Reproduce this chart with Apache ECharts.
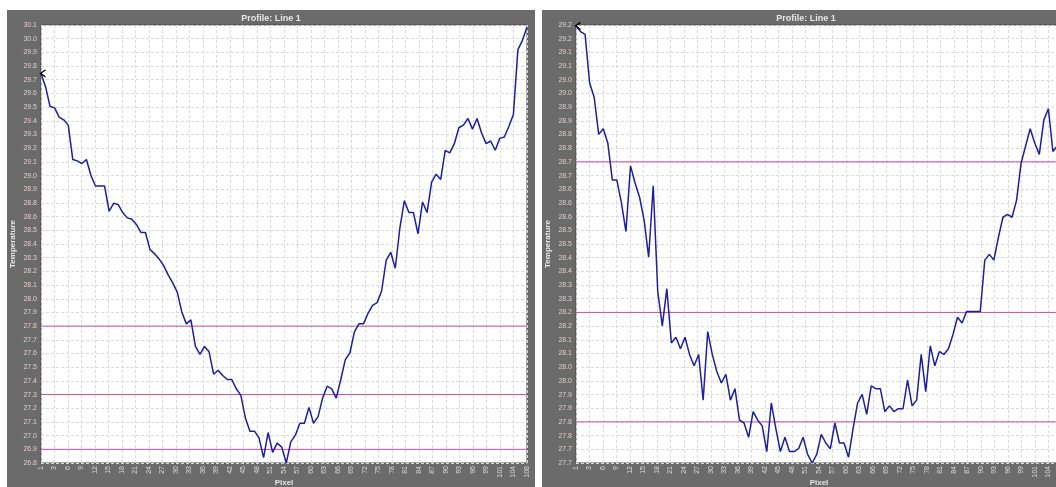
<!DOCTYPE html>
<html><head><meta charset="utf-8">
<script src="https://cdn.jsdelivr.net/npm/echarts@6/dist/echarts.min.js"></script>
<style>
html,body{margin:0;padding:0;background:#fff;width:1056px;height:487px;overflow:hidden;position:relative}
#c1{position:absolute;left:7px;top:10px;width:528px;height:477px}
#c2{position:absolute;left:542px;top:10px;width:528px;height:477px}
</style></head><body>
<div id="c1"></div><div id="c2"></div>
<script>
const pixels = [1,2,3,4,5,6,7,8,9,10,11,12,13,14,15,16,17,18,19,20,21,22,23,24,25,26,27,28,29,30,31,32,33,34,35,36,37,38,39,40,41,42,43,44,45,46,47,48,49,50,51,52,53,54,55,56,57,58,59,60,61,62,63,64,65,66,67,68,69,70,71,72,73,74,75,76,77,78,79,80,81,82,83,84,85,86,87,88,89,90,91,92,93,94,95,96,97,98,99,100,101,102,103,104,105,106,107,108];

const leftTemps = [29.73,29.63,29.48,29.47,29.40,29.38,29.34,29.08,29.07,29.05,29.08,28.96,28.88,28.88,28.88,28.69,28.75,28.74,28.68,28.64,28.63,28.59,28.53,28.53,28.40,28.37,28.33,28.28,28.21,28.15,28.08,27.93,27.84,27.87,27.67,27.61,27.67,27.63,27.46,27.49,27.45,27.42,27.42,27.35,27.30,27.13,27.03,27.03,26.98,26.83,27.02,26.87,26.94,26.91,26.79,26.95,27.00,27.09,27.09,27.21,27.09,27.14,27.28,27.37,27.35,27.28,27.42,27.57,27.62,27.78,27.84,27.84,27.92,27.98,28.00,28.09,28.32,28.38,28.26,28.56,28.77,28.68,28.68,28.52,28.76,28.68,28.91,28.97,28.93,29.15,29.13,29.20,29.32,29.34,29.39,29.31,29.39,29.28,29.20,29.22,29.15,29.24,29.25,29.33,29.42,29.91,29.98,30.08];

const rightTemps = [29.22,29.20,29.19,29.02,28.97,28.84,28.86,28.81,28.68,28.68,28.60,28.50,28.73,28.67,28.62,28.54,28.41,28.66,28.29,28.17,28.30,28.11,28.13,28.09,28.13,28.07,28.03,28.07,27.91,28.15,28.07,28.01,27.97,28.00,27.91,27.95,27.84,27.83,27.78,27.87,27.84,27.82,27.73,27.90,27.81,27.73,27.78,27.73,27.73,27.74,27.78,27.72,27.69,27.72,27.79,27.76,27.74,27.83,27.76,27.76,27.71,27.81,27.90,27.93,27.86,27.96,27.95,27.95,27.87,27.89,27.87,27.88,27.88,27.98,27.89,27.91,28.07,27.94,28.10,28.03,28.08,28.07,28.09,28.14,28.20,28.18,28.22,28.22,28.22,28.22,28.40,28.42,28.40,28.48,28.55,28.56,28.55,28.61,28.74,28.80,28.86,28.81,28.77,28.89,28.93,28.78,28.80,28.82];

const xTickLabels = ['1','3','6','9','12','15','18','21','24','27','30','33','36','39','42','45','48','51','54','57','60','63','66','69','72','75','78','81','84','87','90','93','96','99','101','104','108'];

const leftYLabels = ['26.8','26.9','27.0','27.1','27.2','27.3','27.4','27.5','27.6','27.7','27.8','27.9','28.0','28.1','28.2','28.3','28.4','28.5','28.6','28.8','28.9','29.0','29.1','29.2','29.3','29.4','29.5','29.6','29.7','29.8','29.9','30.0','30.1'];
const rightYLabels = ['27.7','27.7','27.8','27.8','27.9','27.9','28.0','28.0','28.1','28.1','28.2','28.2','28.3','28.3','28.4','28.4','28.5','28.5','28.6','28.6','28.6','28.7','28.7','28.8','28.8','28.9','28.9','29.0','29.0','29.1','29.1','29.2','29.2'];

const leftLimits = [27.823, 27.307, 26.893];
const rightLimits = [28.744, 28.217, 27.834];

const leftAxisMin = 26.79, leftAxisStep = 0.1033;
const rightAxisMin = 27.69, rightAxisStep = 0.0479;

const FONT = 'Liberation Sans';
const LIMIT_COLOR = '#c8509e';

function build(el, temps, yLabels, yMin, yStep, limits) {
  const chart = echarts.init(el, null, {renderer: 'canvas'});
  const nY = yLabels.length - 1;
  const xMin = pixels[0], xMax = pixels[pixels.length - 1];
  const xStep = (xMax - xMin) / (xTickLabels.length - 1);
  const limitSeries = limits.map(v => ({
    type: 'line', data: [[xMin, v], [xMax, v]], showSymbol: false, symbol: 'none', silent: true,
    emphasis: {disabled: true}, z: 1,
    lineStyle: {color: LIMIT_COLOR, width: 1, type: 'solid'}
  }));
  chart.setOption({
    animation: false,
    backgroundColor: '#6b6b6b',
    title: {
      text: 'Profile: Line 1', left: 'center', top: 4, padding: 0,
      textStyle: {color: '#e6e6e6', fontSize: 9, fontWeight: 'bold', fontFamily: FONT}
    },
    grid: {left: 34, top: 15, width: 486, height: 438, show: true, outerBoundsMode: 'none', containLabel: false,
      backgroundColor: '#ffffff', borderColor: '#4a4a4a', borderWidth: 1},
    xAxis: {
      type: 'value', min: xMin, max: xMax, interval: xStep,
      name: 'Pixel', nameLocation: 'middle', nameGap: 16, nameMoveOverlap: false,
      nameTextStyle: {color: '#e6e6e6', fontSize: 8, fontWeight: 'bold', fontFamily: FONT},
      axisLine: {show: false}, axisTick: {show: false},
      axisLabel: {rotate: 90, fontSize: 7, color: '#dcdcdc', margin: 3, fontFamily: FONT,
        formatter: v => { const k = Math.round((v - xMin) / xStep); return xTickLabels[k] ?? ''; }},
      splitLine: {show: true, lineStyle: {color: '#dadada', type: [3, 2], width: 1}}
    },
    yAxis: {
      type: 'value', min: yMin, max: yMin + nY * yStep, interval: yStep,
      name: 'Temperature', nameLocation: 'middle', nameGap: 24, nameRotate: 90, nameMoveOverlap: false,
      nameTextStyle: {color: '#e6e6e6', fontSize: 8, fontWeight: 'bold', fontFamily: FONT},
      axisLine: {show: false}, axisTick: {show: false},
      axisLabel: {fontSize: 7, color: '#e2c9c9', margin: 4, fontFamily: FONT,
        formatter: v => { const k = Math.round((v - yMin) / yStep); return yLabels[k] ?? ''; }},
      splitLine: {show: true, lineStyle: {color: '#dadada', type: [3, 2], width: 1}}
    },
    series: limitSeries.concat([{
      type: 'line', data: temps.map((t, i) => [pixels[i], t]),
      showSymbol: false, symbol: 'none', silent: true, z: 3,
      lineStyle: {color: '#1e1ea0', width: 1.5},
      emphasis: {disabled: true},
      markPoint: {silent: true, animation: false, label: {show: false},
        symbol: 'path://M10,0 L0,6 L10,12', symbolSize: [5, 7], symbolOffset: [2, 0],
        itemStyle: {color: 'rgba(0,0,0,0)', borderColor: '#000', borderWidth: 1.2},
        data: [{coord: [pixels[0], temps[0]]}]}
    }])
  });
}

build(document.getElementById('c1'), leftTemps, leftYLabels, leftAxisMin, leftAxisStep, leftLimits);
build(document.getElementById('c2'), rightTemps, rightYLabels, rightAxisMin, rightAxisStep, rightLimits);
</script>
</body></html>
